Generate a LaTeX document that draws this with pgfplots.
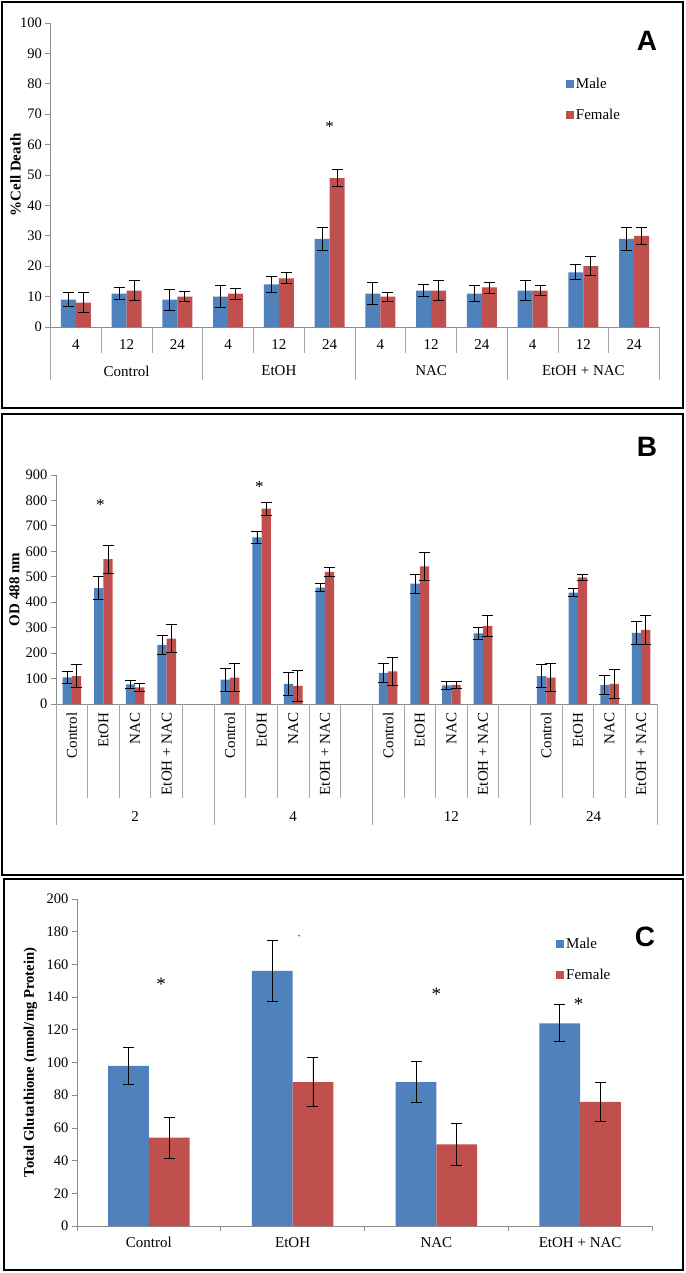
\documentclass[border=0pt]{standalone}
\usepackage{fontspec}
\setmainfont{Liberation Serif}
\newfontfamily\sansf{Liberation Sans}
\usepackage{pgfplots}
\pgfplotsset{compat=1.18}
\definecolor{mblue}{HTML}{4F81BD}
\definecolor{fred}{HTML}{C0504D}
\definecolor{axgray}{HTML}{8C8C8C}
\definecolor{sepgray}{HTML}{A6A6A6}
\pgfplotsset{
 common/.style={
  scale only axis, axis x line*=bottom, axis y line*=left,
  axis line style={axgray, line width=0.8pt},
  ymin=0, clip=false,
  /pgf/number format/assume math mode=true,
  tick align=outside,
  ytick style={axgray, line width=0.8pt}, major tick length=5pt,
  xtick style={draw=none},
  yticklabel style={font=\fontsize{14.5}{16}\selectfont},
  error bars/y dir=both, error bars/y explicit,
  error bars/error bar style={black, line width=0.9pt},
  error bars/error mark options={black, line width=0.9pt, mark size=5.5pt, rotate=90},
  legend cell align=left,
 },
 sqlegend/.style={legend image code/.code={\fill[##1] (0pt,-4pt) rectangle (8pt,4pt);}},
}
\begin{document}
\begin{tikzpicture}
\useasboundingbox (0,0) rectangle (685pt,-1273pt);
\fill[white] (0,0) rectangle (685pt,-1273pt);
\draw[black, line width=2pt] (2pt,-2pt) rectangle (683pt,-408pt);
\draw[black, line width=2pt] (2pt,-414pt) rectangle (683pt,-875pt);
\draw[black, line width=2pt] (4pt,-879pt) rectangle (683pt,-1270pt);
% ---------- Panel A
\begin{axis}[common, at={(50.5pt,-327pt)}, anchor=south west, width=609pt, height=304pt,
  ybar=0pt, bar width=15pt, sqlegend, xmin=-0.5, xmax=11.5, ymax=100, ytick={0,10,...,100},
  xtick={0,...,11}, xticklabels={4,12,24,4,12,24,4,12,24,4,12,24},
  xticklabel style={font=\fontsize{15}{17}\selectfont, yshift=-4pt},
  ylabel={\bfseries\%Cell Death}, ylabel style={font=\fontsize{15}{17}\selectfont, at={(axis description cs:-0.0575,0.5)}, anchor=center},
  legend style={draw=none, fill=none, at={(axis description cs:0.846,0.825)}, anchor=north west, font=\fontsize{15}{17}\selectfont, row sep=15pt, inner sep=0pt}]
\addplot[fill=mblue, draw=none, error bars/.cd, y dir=both, y explicit] table[x=x, y=y, y error=e] {
x y e
0 9 2.3
1 11 2
2 9 3.4
3 10 3.6
4 14 2.6
5 29 3.7
6 11 3.5
7 12 2
8 11 2.6
9 12 3.4
10 18 2.5
11 29 3.7
};
\addplot[fill=fred, draw=none, error bars/.cd, y dir=both, y explicit] table[x=x, y=y, y error=e] {
x y e
0 8 3.3
1 12 3.2
2 10 1.6
3 11 1.8
4 16 1.8
5 49 2.8
6 10 1.5
7 12 3.2
8 13 1.8
9 12 1.7
10 20 3.2
11 30 2.7
};
\legend{Male,Female}
\pgfplotsinvokeforeach{0.5,1.5,3.5,4.5,6.5,7.5,9.5,10.5}{\draw[sepgray, line width=0.8pt] (axis cs:#1,0) -- ++(0pt,-26pt);}
\pgfplotsinvokeforeach{-0.5,2.5,5.5,8.5,11.5}{\draw[sepgray, line width=0.8pt] (axis cs:#1,0) -- ++(0pt,-53pt);}
\node[font=\fontsize{15}{17}\selectfont, yshift=-44pt] at (axis cs:1,0) {Control};
\node[font=\fontsize{15}{17}\selectfont, yshift=-44pt] at (axis cs:4,0) {EtOH};
\node[font=\fontsize{15}{17}\selectfont, yshift=-44pt] at (axis cs:7,0) {NAC};
\node[font=\fontsize{15}{17}\selectfont, yshift=-44pt] at (axis cs:10,0) {EtOH + NAC};
\node[font=\fontsize{17}{18}\selectfont, anchor=base, inner sep=0pt] at (axis cs:5,64) {*};
\end{axis}
\node[font=\sansf\bfseries\fontsize{28}{30}\selectfont] at (647pt,-41pt) {A};
% ---------- Panel B
\begin{axis}[common, at={(56pt,-704pt)}, anchor=south west, width=601pt, height=229pt,
  ybar=0pt, bar width=9.3pt, xmin=-0.5, xmax=18.5, ymax=900, ytick={0,100,...,900},
  xtick={0,...,18}, xticklabels={Control,EtOH,NAC,EtOH + NAC,{},Control,EtOH,NAC,EtOH + NAC,{},Control,EtOH,NAC,EtOH + NAC,{},Control,EtOH,NAC,EtOH + NAC},
  xticklabel style={font=\fontsize{15}{17}\selectfont, rotate=90, anchor=east, yshift=0pt},
  ylabel={\bfseries OD 488 nm}, ylabel style={font=\fontsize{15}{17}\selectfont, at={(axis description cs:-0.069,0.5)}, anchor=center}]
\addplot[fill=mblue, draw=none, error bars/.cd, y dir=both, y explicit] table[x=x, y=y, y error=e] {
x y e
0 105 23
1 455 45
2 77 15
3 232 37
5 96 45
6 655 24
7 79 44
8 457 15
10 122 38
11 473 38
12 73 14
13 278 24
15 110 45
16 438 16
17 75 38
18 280 46
};
\addplot[fill=fred, draw=none, error bars/.cd, y dir=both, y explicit] table[x=x, y=y, y error=e] {
x y e
0 110 44
1 569 56
2 65 17
3 257 55
5 104 55
6 768 25
7 71 60
8 519 18
10 128 55
11 541 55
12 75 15
13 307 41
15 104 55
16 498 13
17 79 56
18 291 56
};
\pgfplotsinvokeforeach{0.5,1.5,2.5,3.5,5.5,6.5,7.5,8.5,10.5,11.5,12.5,13.5,15.5,16.5,17.5}{\draw[sepgray, line width=0.8pt] (axis cs:#1,0) -- ++(0pt,-94pt);}
\pgfplotsinvokeforeach{-0.5,4.5,9.5,14.5,18.5}{\draw[sepgray, line width=0.8pt] (axis cs:#1,0) -- ++(0pt,-121pt);}
\node[font=\fontsize{15}{17}\selectfont, yshift=-113pt] at (axis cs:2,0) {2};
\node[font=\fontsize{15}{17}\selectfont, yshift=-113pt] at (axis cs:7,0) {4};
\node[font=\fontsize{15}{17}\selectfont, yshift=-113pt] at (axis cs:12,0) {12};
\node[font=\fontsize{15}{17}\selectfont, yshift=-113pt] at (axis cs:16.5,0) {24};
\node[font=\fontsize{17}{18}\selectfont, anchor=base, inner sep=0pt] at (axis cs:0.9,760) {*};
\node[font=\fontsize{17}{18}\selectfont, anchor=base, inner sep=0pt] at (axis cs:5.93,830) {*};
\end{axis}
\node[font=\sansf\bfseries\fontsize{28}{30}\selectfont] at (647pt,-447pt) {B};
% ---------- Panel C
\begin{axis}[common, at={(77pt,-1226pt)}, anchor=south west, width=575pt, height=327pt,
  ybar=0pt, bar width=40.7pt, sqlegend, xmin=-0.5, xmax=3.5, ymax=200, ytick={0,20,...,200},
  xtick={0,1,2,3}, xticklabels={Control,EtOH,NAC,EtOH + NAC},
  xticklabel style={font=\fontsize{15}{17}\selectfont, yshift=-3pt},
  ylabel={\bfseries Total Glutathione (nmol/mg Protein)}, ylabel style={font=\fontsize{14.7}{16}\selectfont, at={(axis description cs:-0.081,0.5)}, anchor=center},
  legend style={draw=none, fill=none, at={(axis description cs:0.833,0.888)}, anchor=north west, font=\fontsize{15}{17}\selectfont, row sep=15pt, inner sep=0pt}]
\addplot[fill=mblue, draw=none, error bars/.cd, y dir=both, y explicit] table[x=x, y=y, y error=e] {
x y e
0 98 11.3
1 156 18.5
2 88 12.6
3 124 11.4
};
\addplot[fill=fred, draw=none, error bars/.cd, y dir=both, y explicit] table[x=x, y=y, y error=e] {
x y e
0 54 12.5
1 88 15
2 50 13
3 76 12
};
\legend{Male,Female}
\pgfplotsinvokeforeach{-0.5,0.5,1.5,2.5,3.5}{\draw[axgray, line width=0.8pt] (axis cs:#1,0) -- ++(0pt,-5pt);}
\node[font=\fontsize{19}{20}\selectfont, anchor=base, inner sep=0pt] at (axis cs:0.085,144) {*};
\node[font=\fontsize{19}{20}\selectfont, anchor=base, inner sep=0pt] at (axis cs:2,138) {*};
\node[font=\fontsize{19}{20}\selectfont, anchor=base, inner sep=0pt] at (axis cs:2.99,132) {*};
\node[font=\fontsize{5}{6}\selectfont, anchor=base, inner sep=0pt] at (axis cs:1.045,176) {*};
\end{axis}
\node[font=\sansf\bfseries\fontsize{28}{30}\selectfont] at (645pt,-937pt) {C};
\end{tikzpicture}
\end{document}
